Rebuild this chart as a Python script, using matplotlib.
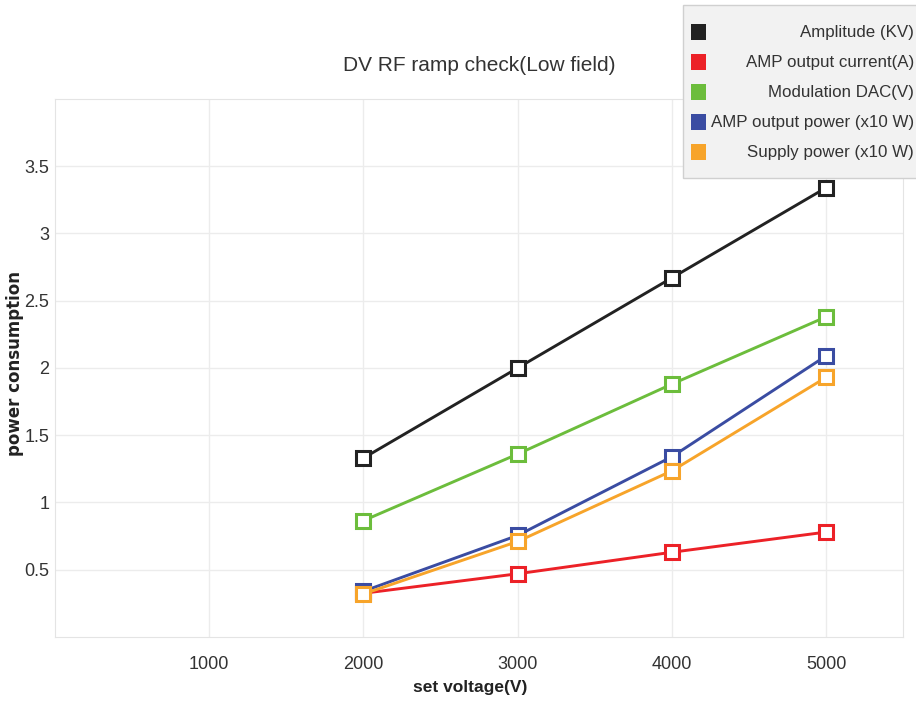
import matplotlib
matplotlib.use('Agg')
import matplotlib.pyplot as plt
from matplotlib.patches import Rectangle

plt.rcParams['font.family'] = ['Liberation Sans', 'DejaVu Sans']

voltage = [2000, 3000, 4000, 5000]
amplitude = [1.33, 2.00, 2.67, 3.34]
amp_current = [0.325, 0.47, 0.63, 0.78]
modulation_dac = [0.865, 1.36, 1.88, 2.38]
amp_power = [0.34, 0.755, 1.34, 2.09]
supply_power = [0.32, 0.71, 1.235, 1.93]

labels = ['Amplitude (KV)', 'AMP output current(A)', 'Modulation DAC(V)',
          'AMP output power (x10 W)', 'Supply power (x10 W)']
series = [amplitude, amp_current, modulation_dac, amp_power, supply_power]
colors = ['#222222', '#ec2127', '#6cbd3c', '#3a4ca2', '#f7a42a']

xticks = [1000, 2000, 3000, 4000, 5000]
yticks = [0.5, 1, 1.5, 2, 2.5, 3, 3.5]
ytick_labels = ['0.5', '1', '1.5', '2', '2.5', '3', '3.5']

fig = plt.figure(figsize=(9.16, 7.02), dpi=100)
ax = fig.add_axes([0.060, 0.0926, 0.926, 0.7664])

for vals, col in zip(series, colors):
    ax.plot(voltage, vals, color=col, lw=2.1, marker='s', ms=10,
            mfc='white', mec=col, mew=2.2)

ax.set_xlim(0, 5500)
ax.set_ylim(0, 4)
ax.set_xticks(xticks)
ax.set_yticks(yticks)
ax.set_yticklabels(ytick_labels)
ax.tick_params(length=0, labelsize=13, labelcolor='#333333')
ax.tick_params(axis='y', pad=4)
ax.tick_params(axis='x', pad=14)
ax.grid(True, color='#ececec', lw=1)
ax.set_axisbelow(True)
for s in ax.spines.values():
    s.set_color('#e4e4e4')

ax.set_title('DV RF ramp check(Low field)', fontsize=15, color='#333333', pad=20)
ax.set_xlabel('set voltage(V)', fontsize=12.5, fontweight='bold', color='#222222')
ax.xaxis.set_label_coords(0.490, -0.080)
ax.set_ylabel('power consumption', fontsize=12, fontweight='bold', color='#222222',
              family=['DejaVu Sans'])
ax.yaxis.set_label_coords(-0.036, 0.509)

# legend box, drawn by hand so the texts are right aligned
W, H = 916.0, 702.0
fig.add_artist(Rectangle((683 / W, 1 - 178 / H), 240 / W, 173 / H, transform=fig.transFigure,
                         facecolor='#f2f2f2', edgecolor='#d0d0d0', lw=1))
for i, (lab, col) in enumerate(zip(labels, colors)):
    yc = 1 - (32 + 30 * i) / H
    fig.add_artist(Rectangle((691 / W, yc - 7.5 / H), 15 / W, 15 / H, transform=fig.transFigure,
                             facecolor=col, edgecolor='none'))
    fig.text(914 / W, yc, lab, ha='right', va='center', fontsize=12.2, color='#333333')

fig.savefig('out.png', dpi=100)
